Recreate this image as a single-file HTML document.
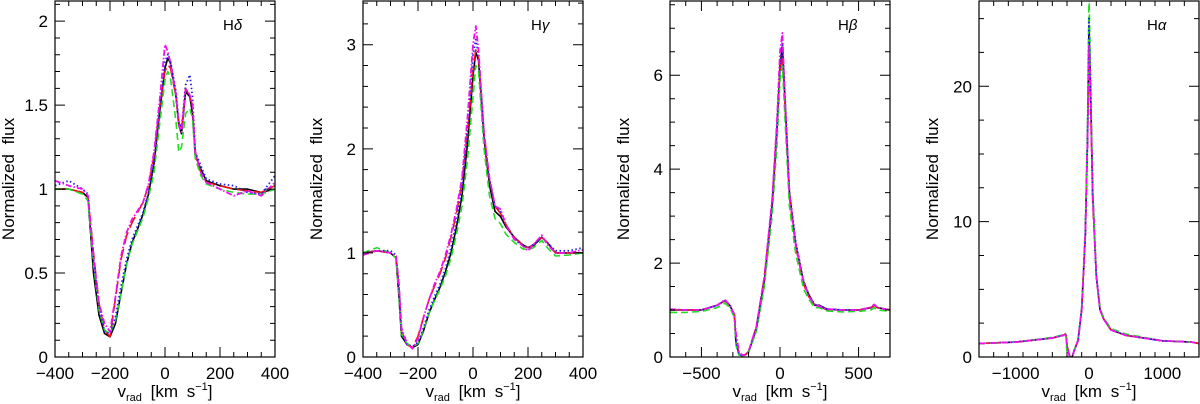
<!DOCTYPE html>
<html><head><meta charset="utf-8"><style>
body{margin:0;background:#fff;}
svg{display:block;font-family:"Liberation Sans",sans-serif;}
</style></head><body>
<svg id="chart" width="1200" height="404"></svg>
<script>
// ---- data ----
const hdV = [-400,-350,-300,-280,-260,-240,-220,-200,-180,-160,-140,-120,-100,-80,-60,-40,-20,0,10,20,40,50,60,75,90,100,110,130,150,200,250,300,350,400];
const hdBlack = [1.0,1.0,0.98,0.95,0.5,0.25,0.14,0.12,0.2,0.38,0.55,0.68,0.76,0.85,0.97,1.15,1.45,1.72,1.78,1.75,1.55,1.38,1.33,1.58,1.55,1.45,1.2,1.12,1.05,1.02,1.0,1.0,0.98,1.0];
const hdRed = [1.0,1.0,0.98,0.95,0.62,0.32,0.16,0.12,0.35,0.58,0.72,0.8,0.86,0.92,1.02,1.2,1.48,1.7,1.74,1.72,1.55,1.4,1.35,1.6,1.55,1.5,1.2,1.1,1.04,1.02,1.0,0.99,0.98,1.02];
const hdGreen = [1.0,1.0,0.97,0.93,0.55,0.28,0.16,0.14,0.22,0.38,0.55,0.67,0.75,0.83,0.95,1.1,1.38,1.65,1.7,1.66,1.4,1.22,1.25,1.45,1.48,1.42,1.18,1.08,1.03,1.0,0.98,0.97,0.97,1.0];
const hdBlue = [1.02,1.05,1.0,0.97,0.58,0.3,0.15,0.14,0.24,0.42,0.58,0.7,0.78,0.86,0.98,1.16,1.47,1.76,1.8,1.76,1.58,1.4,1.36,1.62,1.68,1.55,1.22,1.14,1.06,1.03,1.02,0.98,0.97,1.08];
const hdMagenta = [1.05,1.02,1.0,0.96,0.6,0.32,0.2,0.15,0.36,0.6,0.74,0.82,0.87,0.92,1.03,1.22,1.52,1.86,1.82,1.75,1.56,1.38,1.34,1.6,1.56,1.5,1.22,1.1,1.04,1.0,0.96,0.99,0.96,1.04];

const hgV = [-400,-350,-300,-280,-270,-260,-240,-220,-200,-180,-160,-140,-120,-100,-80,-60,-40,-20,0,10,20,40,60,80,100,120,150,180,200,220,250,270,300,350,400];
const hgBlack = [1.0,1.02,1.0,0.95,0.6,0.2,0.12,0.09,0.12,0.25,0.42,0.55,0.67,0.82,1.0,1.25,1.55,2.05,2.7,2.93,2.85,2.1,1.65,1.4,1.35,1.25,1.15,1.08,1.05,1.07,1.15,1.1,1.0,1.0,1.0];
const hgRed = [1.0,1.02,1.0,0.96,0.7,0.25,0.12,0.09,0.2,0.38,0.55,0.68,0.8,0.95,1.15,1.38,1.68,2.15,2.75,2.95,2.88,2.15,1.7,1.45,1.38,1.27,1.15,1.08,1.05,1.08,1.15,1.1,1.0,1.0,1.0];
const hgGreen = [1.0,1.05,1.0,0.95,0.62,0.22,0.13,0.1,0.13,0.26,0.42,0.54,0.65,0.78,0.95,1.18,1.45,1.9,2.5,2.8,2.75,2.0,1.55,1.33,1.28,1.18,1.1,1.04,1.03,1.05,1.12,1.05,0.97,0.98,1.0];
const hgBlue = [1.0,1.02,1.02,0.98,0.7,0.24,0.12,0.1,0.14,0.28,0.45,0.58,0.7,0.85,1.05,1.3,1.62,2.2,2.9,3.05,2.9,2.15,1.7,1.45,1.4,1.27,1.14,1.07,1.05,1.08,1.15,1.1,1.02,1.02,1.05];
const hgMagenta = [0.98,1.02,1.0,0.97,0.72,0.28,0.13,0.08,0.18,0.38,0.55,0.7,0.82,0.98,1.18,1.42,1.72,2.3,3.0,3.18,2.95,2.15,1.72,1.45,1.42,1.27,1.13,1.07,1.02,1.08,1.17,1.08,1.0,1.0,1.03];

const hbV = [-700,-600,-500,-400,-350,-320,-290,-280,-260,-240,-220,-200,-150,-100,-50,-20,0,15,30,60,100,150,180,220,250,300,400,500,580,600,620,700];
const hbBlack = [1.0,1.0,1.0,1.1,1.2,1.1,0.9,0.3,0.05,0.03,0.05,0.1,0.6,1.6,3.2,4.8,6.2,6.6,5.6,3.5,2.4,1.6,1.35,1.1,1.1,1.02,1.0,1.0,1.05,1.1,1.05,1.0];
const hbRed = [1.0,1.0,1.0,1.1,1.2,1.1,0.9,0.35,0.06,0.03,0.05,0.12,0.65,1.7,3.3,4.9,6.1,6.4,5.5,3.4,2.35,1.55,1.3,1.1,1.08,1.0,1.0,1.0,1.05,1.1,1.05,1.0];
const hbGreen = [0.95,0.95,0.97,1.05,1.15,1.05,0.85,0.25,0.04,0.03,0.05,0.1,0.55,1.5,3.0,4.5,5.9,6.2,5.2,3.2,2.2,1.45,1.25,1.05,1.05,0.98,0.96,0.97,1.0,1.05,1.0,0.97];
const hbBlue = [1.0,1.0,1.0,1.1,1.2,1.12,0.9,0.32,0.05,0.03,0.05,0.11,0.62,1.65,3.25,4.85,6.25,6.7,5.7,3.55,2.45,1.62,1.36,1.12,1.1,1.02,1.0,1.0,1.05,1.12,1.05,1.0];
const hbMagenta = [1.02,1.0,1.0,1.1,1.22,1.1,0.9,0.5,0.1,0.04,0.05,0.12,0.65,1.7,3.35,5.0,6.5,6.9,5.6,3.5,2.4,1.6,1.32,1.1,1.08,1.02,1.0,1.0,1.06,1.12,1.05,1.0];

const haV = [-1500,-1000,-500,-350,-320,-310,-300,-260,-230,-200,-150,-100,-50,-20,0,20,50,100,150,200,300,500,1000,1400,1500];
const haBlack = [1.0,1.1,1.4,1.6,1.7,1.5,0.8,0.0,0.0,0.5,1.2,3.5,9,16,24.5,20,12,6,3.5,2.8,2.0,1.6,1.2,1.1,1.0];
const haRed = [1.0,1.1,1.4,1.6,1.7,1.5,0.8,0.0,0.0,0.5,1.2,3.5,9,16,22,19,11.5,6,3.5,2.8,2.0,1.6,1.2,1.1,1.0];
const haGreen = [1.0,1.1,1.45,1.65,1.75,1.2,0.0,0.0,0.0,0.5,1.3,3.7,9.5,17,27,21,12.5,6.2,3.6,2.9,2.1,1.7,1.2,1.1,1.0];
const haBlue = [1.0,1.1,1.4,1.6,1.7,1.5,0.8,0.0,0.0,0.5,1.2,3.5,9,16,25,20,12,6,3.5,2.8,2.0,1.6,1.2,1.1,1.0];
const haMagenta = [1.0,1.1,1.4,1.6,1.7,1.5,0.8,0.0,0.0,0.5,1.2,3.5,9,16,23,19.5,12,6,3.5,2.8,2.0,1.6,1.2,1.1,1.0];

const hdXTicks = [-400,-200,0,200,400];
const hdYTicks = ['0','0.5','1','1.5','2'];
const hgXTicks = [-400,-200,0,200,400];
const hgYTicks = ['0','1','2','3'];
const hbXTicks = [-500,0,500];
const hbYTicks = ['0','2','4','6'];
const haXTicks = [-1000,0,1000];
const haYTicks = ['0','10','20'];

// ---- layout ----
const NS = 'http://www.w3.org/2000/svg';
const svg = document.getElementById('chart');
const TOP = 1, BOT = 357;
const seriesStyle = [
  {name:'black', color:'#000', dash:'', w:1.6},
  {name:'red', color:'#ee1111', dash:'12,5', w:1.6},
  {name:'green', color:'#22dd22', dash:'7,4', w:1.6},
  {name:'blue', color:'#2222ee', dash:'1.5,2.5', w:1.8},
  {name:'magenta', color:'#ee11ee', dash:'6,2,1.5,2', w:1.8}
];
const panels = [
  {id:'h-delta', label:'H', greek:'δ', left:55, right:275, xmin:-400, xmax:400, ymin:0, ymax:2.12, xMinor:50, yMinor:0.1, xt:hdXTicks, yt:hdYTicks, v:hdV, s:[hdBlack,hdRed,hdGreen,hdBlue,hdMagenta]},
  {id:'h-gamma', label:'H', greek:'γ', left:363, right:583, xmin:-400, xmax:400, ymin:0, ymax:3.42, xMinor:50, yMinor:0.2, xt:hgXTicks, yt:hgYTicks, v:hgV, s:[hgBlack,hgRed,hgGreen,hgBlue,hgMagenta]},
  {id:'h-beta', label:'H', greek:'β', left:670, right:890, xmin:-700, xmax:700, ymin:0, ymax:7.58, xMinor:100, yMinor:0.5, xt:hbXTicks, yt:hbYTicks, v:hbV, s:[hbBlack,hbRed,hbGreen,hbBlue,hbMagenta]},
  {id:'h-alpha', label:'H', greek:'α', left:979, right:1199, xmin:-1500, xmax:1500, ymin:0, ymax:26.3, xMinor:200, yMinor:2.5, xt:haXTicks, yt:haYTicks, v:haV, s:[haBlack,haRed,haGreen,haBlue,haMagenta]}
];

function mk(tag, attrs, parent){
  const e = document.createElementNS(NS, tag);
  for (const k in attrs) e.setAttribute(k, attrs[k]);
  (parent||svg).appendChild(e);
  return e;
}

panels.forEach(p => {
  const g = mk('g', {});
  
  
  const xs = v => p.left + (v - p.xmin) / (p.xmax - p.xmin) * (p.right - p.left);
  const ys = v => BOT - (v - p.ymin) / (p.ymax - p.ymin) * (BOT - TOP);

  const cid = 'clip-' + p.id;
  const cp = mk('clipPath', {id:cid}, g);
  mk('rect', {x:p.left, y:TOP, width:p.right-p.left, height:BOT-TOP}, cp);

  const sg = mk('g', {'clip-path':'url(#'+cid+')'}, g);
  p.s.forEach((arr, i) => {
    const st = seriesStyle[i];
    const d = arr.map((val, j) => (j ? 'L' : 'M') + xs(p.v[j]).toFixed(1) + ',' + ys(val).toFixed(1)).join('');
    const path = mk('path', {d:d, fill:'none', stroke:st.color, 'stroke-width':st.w, 'stroke-dasharray':st.dash, 'stroke-linejoin':'round'}, sg);
    
    
  });

  const fr = mk('rect', {x:p.left, y:TOP, width:p.right-p.left, height:BOT-TOP, fill:'none', stroke:'#000', 'stroke-width':1.2}, g);
  
  

  let tk = '';
  for (let v = p.xmin; v <= p.xmax + 1e-6; v += p.xMinor) {
    const x = xs(v); const major = p.xt.some(t => Math.abs(t - v) < 1e-6);
    const L = major ? 10 : 5;
    tk += `M${x},${BOT}v${-L}M${x},${TOP}v${L}`;
  }
  const yMajorVals = p.yt.map(Number);
  for (let v = p.ymin; v <= p.ymax + 1e-6; v += p.yMinor) {
    const y = ys(v); const major = yMajorVals.some(t => Math.abs(t - v) < 1e-6);
    const L = major ? 10 : 5;
    tk += `M${p.left},${y}h${L}M${p.right},${y}h${-L}`;
  }
  mk('path', {d:tk, stroke:'#000', 'stroke-width':1, fill:'none'}, g);

  p.xt.forEach(t => {
    const tx = mk('text', {x:xs(t), y:BOT+22, 'text-anchor':'middle', 'font-size':17}, g);
    tx.textContent = (t < 0 ? '\u2212' + (-t) : '' + t);
    
    
  });
  p.yt.forEach(t => {
    const tx = mk('text', {x:p.left-7, y:ys(Number(t))+6, 'text-anchor':'end', 'font-size':17}, g);
    tx.textContent = t;
    
    
  });

  const lab = mk('text', {x:p.right-52, y:30, 'font-size':15}, g);
  lab.innerHTML = p.label + '<tspan font-style="italic">' + p.greek + '</tspan>';
  
  

  const yt = mk('text', {x:0, y:0, 'font-size':17, 'word-spacing':5, 'text-anchor':'middle', transform:`translate(${p.left-41},${(TOP+BOT)/2}) rotate(-90)`}, g);
  yt.textContent = 'Normalized flux';
  
  

  const xt = mk('text', {x:(p.left+p.right)/2, y:BOT+40, 'font-size':17, 'word-spacing':4, 'text-anchor':'middle'}, g);
  xt.innerHTML = 'v<tspan font-size="11" dy="4">rad</tspan><tspan dy="-4"> [km s</tspan><tspan font-size="11" dy="-7">\u22121</tspan><tspan dy="7">]</tspan>';
  
  
});
</script>
</body></html>
